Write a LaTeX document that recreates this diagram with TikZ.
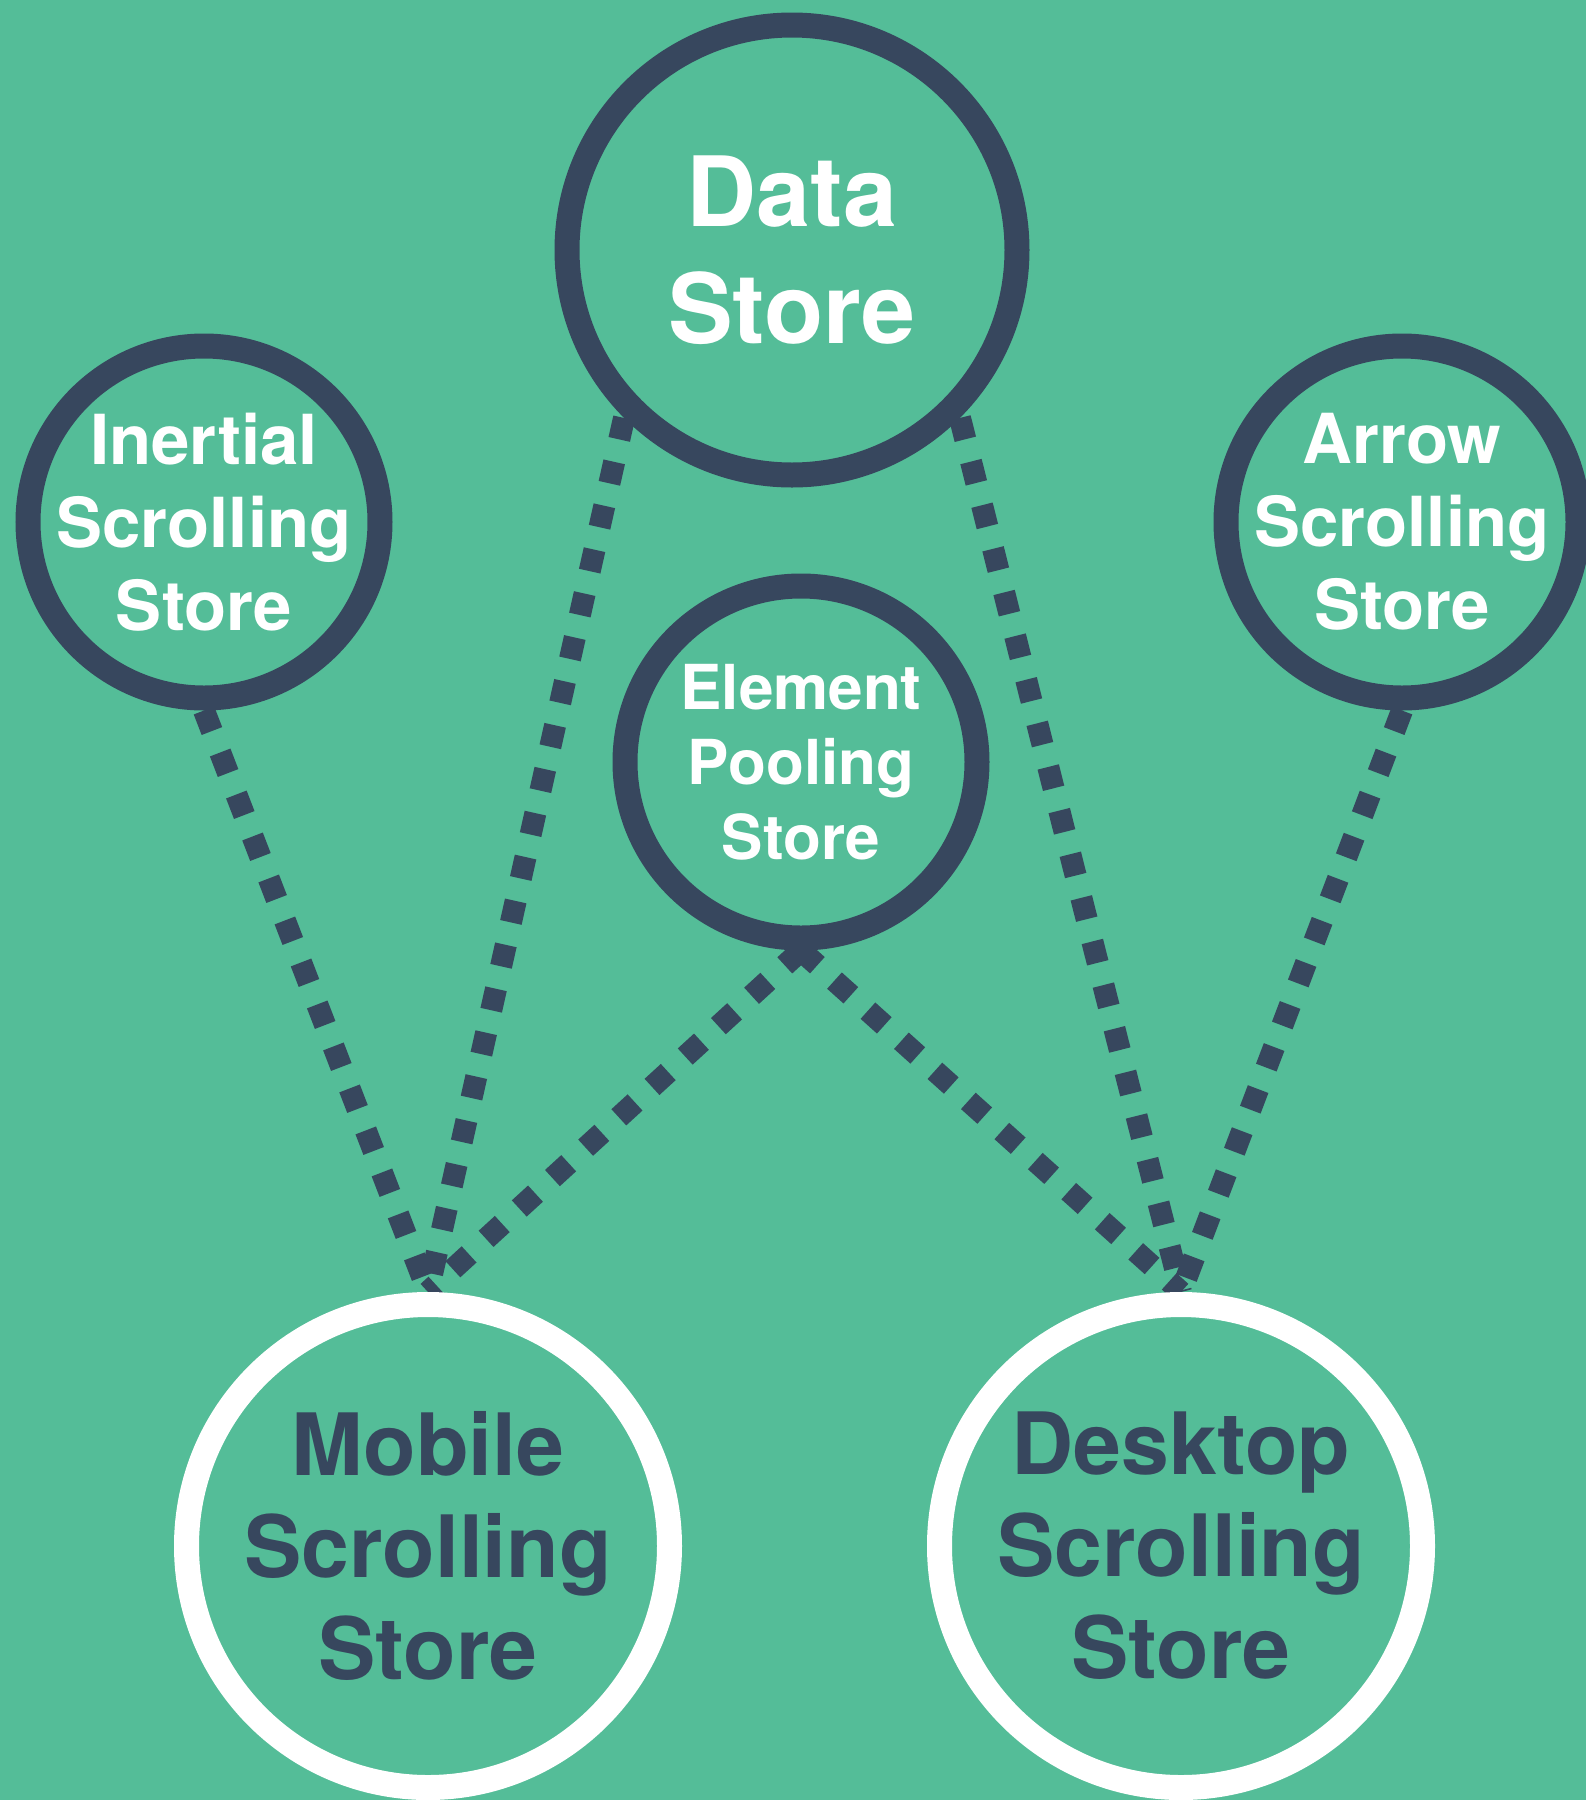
\documentclass[tikz,border=0pt]{standalone}
\usepackage{fontspec}
\setmainfont{TeX Gyre Heros}
\usepackage{tikz}
\usetikzlibrary{backgrounds}
\definecolor{mint}{RGB}{84,189,152}
\definecolor{slate}{RGB}{55,71,94}
\tikzstyle{store}    = [circle, draw=slate, line width=25pt, minimum size=352pt, inner sep=-30pt, text=white, align=center, font=\bfseries\fontsize{69}{83}\selectfont]
\tikzstyle{bigstore} = [store, draw=white, text=slate, minimum size=483pt, font=\bfseries\fontsize{86}{102}\selectfont]
\tikzstyle{link}     = [slate, line width=22pt, dash pattern=on 22pt off 23pt]

\begin{document}
\begin{tikzpicture}[x=1pt,y=-1pt]
        \useasboundingbox (0,0) rectangle (1586,1800);

        \node[store, minimum size=450pt, font=\bfseries\fontsize{97}{117}\selectfont] (data) at (792,250) {Data\\Store};
        \node[store] (inertial) at (204,522) {Inertial\\Scrolling\\Store};
        \node[store] (arrowstore) at (1402,522) {Arrow\\Scrolling\\Store};
        \node[store, font=\bfseries\fontsize{62}{75}\selectfont] (pooling) at (801,762) {Element\\Pooling\\Store};
        \node[bigstore] (mobile) at (428,1546) {Mobile\\Scrolling\\Store};
        \node[bigstore] (desktop) at (1181,1546) {Desktop\\Scrolling\\Store};

        \begin{scope}[on background layer]
        \fill[mint] (0,0) rectangle (1586,1800);
        \draw[link] (inertial.south) -- (mobile.north);
        \draw[link] (data.south west) -- (mobile.north);
        \draw[link] (pooling.south) -- (mobile.north);
        \draw[link] (pooling.south) -- (desktop.north);
        \draw[link] (data.south east) -- (desktop.north);
        \draw[link] (arrowstore.south) -- (desktop.north);
        \end{scope}
    \end{tikzpicture}
\end{document}
